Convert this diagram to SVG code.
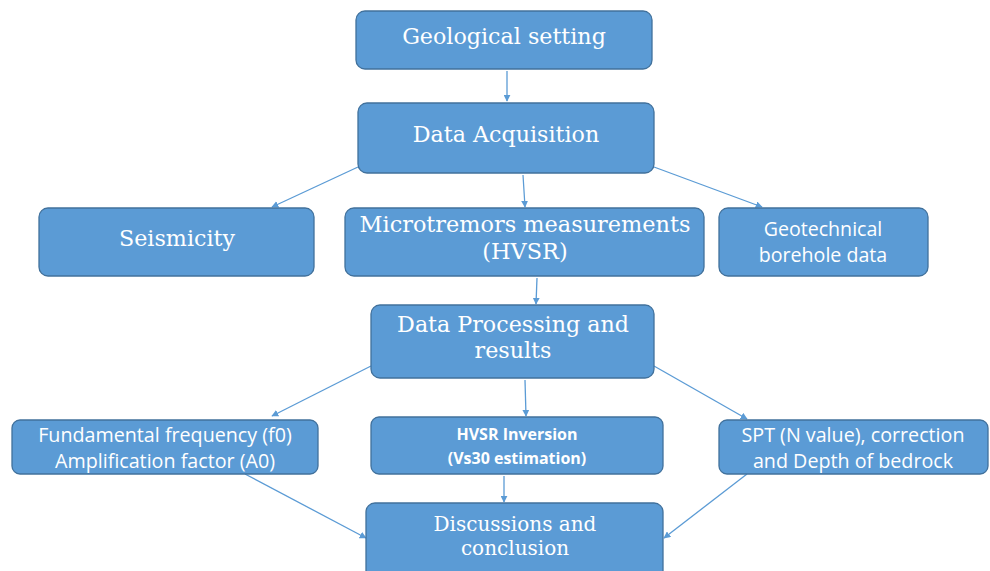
<svg xmlns="http://www.w3.org/2000/svg" width="990" height="571" viewBox="0 0 990 571">
<defs>
<style>
.box{fill:#5B9BD5;stroke:#41719C;stroke-width:1.3}
.serif{font-family:"DejaVu Serif",serif;fill:#fff;text-anchor:middle}
.sans{font-family:"Open Sans","Noto Sans",sans-serif;fill:#fff;text-anchor:middle}
.con{stroke:#5B9BD5;stroke-width:1.3;fill:none;marker-end:url(#ah)}
</style>
<marker id="ah" viewBox="0 0 10 10" refX="9" refY="5" markerWidth="7" markerHeight="7" orient="auto" markerUnits="userSpaceOnUse">
<path d="M0,0 L10,5 L0,10 z" fill="#5B9BD5"/>
</marker>
</defs>
<rect width="990" height="571" fill="#fff"/>
<g id="connectors">
<line class="con" x1="507" y1="71" x2="507" y2="101"/>
<line class="con" x1="358" y1="167" x2="272" y2="207"/>
<line class="con" x1="523" y1="175" x2="525" y2="207"/>
<line class="con" x1="654" y1="167" x2="762" y2="207"/>
<line class="con" x1="537" y1="278" x2="536" y2="304"/>
<line class="con" x1="371" y1="366" x2="272" y2="416"/>
<line class="con" x1="525" y1="380" x2="526" y2="416"/>
<line class="con" x1="654" y1="366" x2="747" y2="419"/>
<line class="con" x1="245" y1="474" x2="366" y2="538"/>
<line class="con" x1="504" y1="476" x2="504" y2="502"/>
<line class="con" x1="747" y1="474" x2="664" y2="538"/>
</g>
<g id="geological">
<rect class="box" x="356" y="11" width="296" height="58" rx="9"/>
<text class="serif" x="504" y="44" font-size="22.2">Geological setting</text>
</g>
<g id="acquisition">
<rect class="box" x="358" y="103" width="296" height="70" rx="9"/>
<text class="serif" x="506" y="142" font-size="22.2">Data Acquisition</text>
</g>
<g id="seismicity">
<rect class="box" x="39" y="208" width="275" height="68" rx="9"/>
<text class="serif" x="177" y="246" font-size="22.2">Seismicity</text>
</g>
<g id="microtremors">
<rect class="box" x="345" y="208" width="359" height="68" rx="9"/>
<text class="serif" x="525" y="232" font-size="22.4">Microtremors measurements</text>
<text class="serif" x="525" y="259" font-size="22.4">(HVSR)</text>
</g>
<g id="geotechnical">
<rect class="box" x="719" y="208" width="209" height="68" rx="9"/>
<text class="sans" x="823" y="236" font-size="19.6">Geotechnical</text>
<text class="sans" x="823" y="262" font-size="19.6">borehole data</text>
</g>
<g id="processing">
<rect class="box" x="371" y="305" width="283" height="73" rx="9"/>
<text class="serif" x="513" y="332" font-size="22.2">Data Processing and</text>
<text class="serif" x="513" y="358" font-size="22.2">results</text>
</g>
<g id="fundamental">
<rect class="box" x="12" y="420" width="306" height="54" rx="8"/>
<text class="sans" x="165" y="442" font-size="19.7">Fundamental frequency (f0)</text>
<text class="sans" x="165" y="468" font-size="19.7">Amplification factor (A0)</text>
</g>
<g id="inversion">
<rect class="box" x="371" y="417" width="292" height="57" rx="8"/>
<text class="sans" x="517" y="440" font-size="16" font-weight="bold">HVSR Inversion</text>
<text class="sans" x="517" y="464" font-size="16" font-weight="bold">(Vs30 estimation)</text>
</g>
<g id="spt">
<rect class="box" x="719" y="420" width="269" height="54" rx="8"/>
<text class="sans" x="853" y="442" font-size="19.7">SPT (N value), correction</text>
<text class="sans" x="853" y="468" font-size="19.7">and Depth of bedrock</text>
</g>
<g id="discussions">
<rect class="box" x="366" y="503" width="297" height="80" rx="9"/>
<text class="serif" x="515" y="531" font-size="20">Discussions and</text>
<text class="serif" x="515" y="555" font-size="20">conclusion</text>
</g>
</svg>
